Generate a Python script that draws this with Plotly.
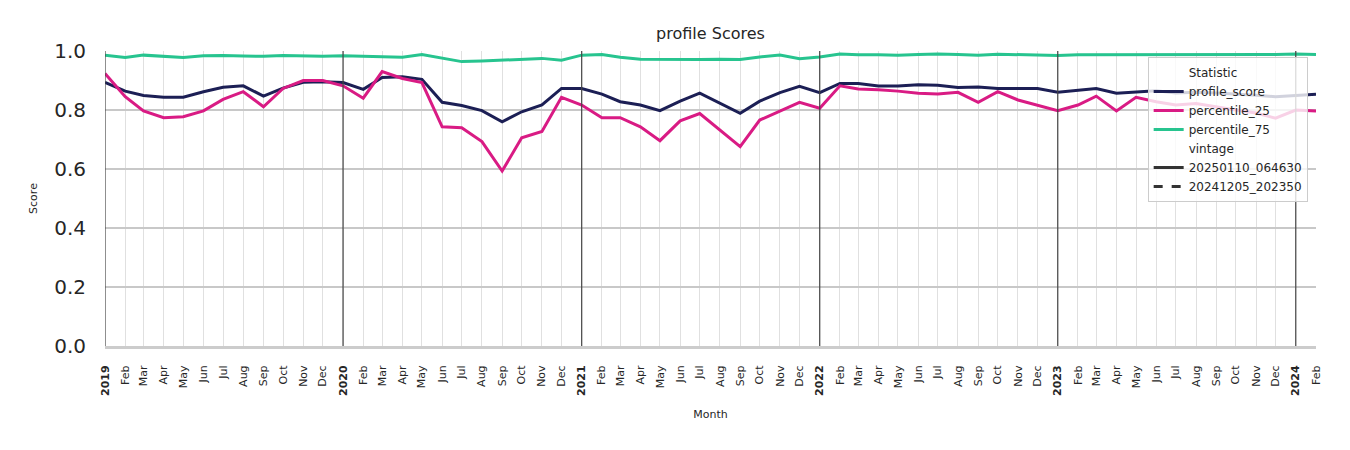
import pandas as pd
import plotly.graph_objects as go

months = [d.strftime("%Y-%m-%d") for d in pd.date_range("2019-01-01", "2024-02-01", freq="MS")]

profile_score = [
    0.894, 0.864, 0.849, 0.843, 0.843, 0.862, 0.877, 0.882, 0.847, 0.874, 0.894, 0.896,
    0.893, 0.870, 0.910, 0.913, 0.904, 0.826, 0.815, 0.798, 0.760, 0.794, 0.817, 0.873,
    0.873, 0.854, 0.828, 0.817, 0.798, 0.830, 0.857, 0.823, 0.789, 0.830, 0.859, 0.880,
    0.859, 0.890, 0.890, 0.881, 0.881, 0.886, 0.884, 0.876, 0.878, 0.873, 0.872, 0.873,
    0.860, 0.868, 0.873, 0.857, 0.862, 0.865, 0.858, 0.860, 0.858, 0.855, 0.850, 0.845,
    0.848, 0.853,
]
percentile_25 = [
    0.924, 0.845, 0.797, 0.774, 0.777, 0.797, 0.836, 0.862, 0.811, 0.873, 0.900, 0.900,
    0.882, 0.840, 0.930, 0.907, 0.893, 0.743, 0.740, 0.693, 0.593, 0.706, 0.727, 0.843,
    0.817, 0.774, 0.774, 0.743, 0.696, 0.763, 0.788, 0.732, 0.676, 0.766, 0.797, 0.826,
    0.806, 0.882, 0.871, 0.869, 0.864, 0.857, 0.854, 0.860, 0.826, 0.862, 0.834, 0.817,
    0.798, 0.817, 0.847, 0.797, 0.843, 0.828, 0.817, 0.822, 0.810, 0.800, 0.790, 0.772,
    0.800, 0.797,
]
percentile_75 = [
    0.986, 0.978, 0.986, 0.982, 0.978, 0.984, 0.985, 0.983, 0.982, 0.985, 0.984, 0.982,
    0.984, 0.983, 0.981, 0.979, 0.988, 0.977, 0.964, 0.966, 0.969, 0.973, 0.975, 0.969,
    0.986, 0.988, 0.979, 0.972, 0.971, 0.970, 0.971, 0.972, 0.971, 0.980, 0.986, 0.974,
    0.980, 0.990, 0.987, 0.987, 0.986, 0.988, 0.990, 0.988, 0.986, 0.989, 0.988, 0.987,
    0.985, 0.987, 0.987, 0.988, 0.989, 0.988, 0.988, 0.987, 0.988, 0.987, 0.987, 0.988,
    0.990, 0.988,
]

series_names = ["profile_score", "percentile_25", "percentile_75"]
series_values = [profile_score, percentile_25, percentile_75]
series_colors = ["#1c1f55", "#d91b84", "#27c48f"]
vintages = ["20250110_064630", "20241205_202350"]
vintage_dash = ["solid", "dash"]

month_ts = pd.to_datetime(months)
tick_text = [f"<b>{d.year}</b>" if d.month == 1 else d.strftime("%b") for d in month_ts]
year_starts = [m for m, d in zip(months, month_ts) if d.month == 1]

fig = go.Figure()

fig.add_trace(go.Scatter(x=[months[0]], y=[None], mode="lines", name="Statistic",
                         line=dict(color="rgba(0,0,0,0)", width=3)))
for name, vals, col in zip(series_names, series_values, series_colors):
    fig.add_trace(go.Scatter(x=months, y=vals, mode="lines", name=name,
                             line=dict(color=col, width=3)))
fig.add_trace(go.Scatter(x=[months[0]], y=[None], mode="lines", name="vintage",
                         line=dict(color="rgba(0,0,0,0)", width=3)))
for v, dsh in zip(vintages, vintage_dash):
    fig.add_trace(go.Scatter(x=[months[0]], y=[None], mode="lines", name=v,
                             line=dict(color="#333333", width=3, dash=dsh)))

for d in year_starts:
    fig.add_shape(type="line", xref="x", yref="paper", x0=d, x1=d, y0=0, y1=1,
                  line=dict(color="#444444", width=1.2), layer="above")

fig.update_layout(
    width=1350, height=450,
    margin=dict(l=105, r=34, t=51, b=104),
    paper_bgcolor="white", plot_bgcolor="white",
    font=dict(family="DejaVu Sans", color="#262626"),
    title=dict(text="profile Scores", x=0.5263, xanchor="center", y=0.925, yanchor="middle",
               font=dict(size=16, color="#262626")),
    showlegend=True,
    legend=dict(x=0.861, y=0.98, xanchor="left", yanchor="top",
                bgcolor="rgba(255,255,255,0.8)", bordercolor="#cccccc", borderwidth=1,
                font=dict(size=12, color="#262626"), traceorder="normal"),
)
fig.update_xaxes(
    type="date",
    range=[months[0], months[-1]],
    tickmode="array", tickvals=months, ticktext=tick_text,
    tickangle=-90, tickfont=dict(size=11, color="#262626"),
    showgrid=True, gridcolor="#e0e0e0", gridwidth=1,
    showline=True, linecolor="#cccccc", linewidth=3,
    zeroline=False, ticks="outside", ticklen=12, tickcolor="rgba(0,0,0,0)",
    title=dict(text="Month", font=dict(size=11, color="#262626"), standoff=16),
)
fig.update_yaxes(
    range=[0, 1], tickmode="array", tickvals=[0, 0.2, 0.4, 0.6, 0.8, 1.0],
    tickformat=".1f", tickfont=dict(size=20, color="#262626"),
    showgrid=True, gridcolor="#c8c8c8", gridwidth=2,
    showline=False, zeroline=False, ticks="outside", ticklen=14, tickcolor="rgba(0,0,0,0)",
    title=dict(text="Score", font=dict(size=11, color="#262626"), standoff=14),
)

fig.write_html("out.html")
